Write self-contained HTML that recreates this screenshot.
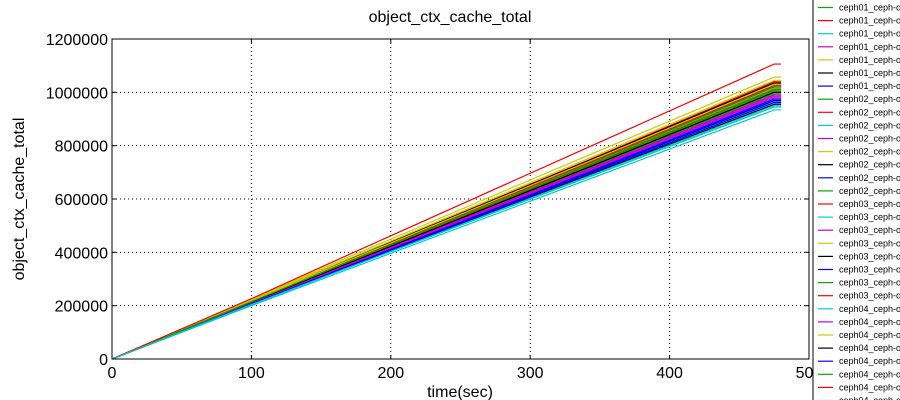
<!DOCTYPE html>
<html><head><meta charset="utf-8"><style>
body{margin:0;background:#fff;width:900px;height:400px;overflow:hidden;font-family:"Liberation Sans",sans-serif}
svg{position:absolute;left:0;top:0}
</style></head><body>
<svg id="c" width="900" height="400"></svg>
<script>
const times=[0,100,165,340,475,480];
const names=["ceph01_ceph-osd.0","ceph01_ceph-osd.1","ceph01_ceph-osd.2","ceph01_ceph-osd.3","ceph01_ceph-osd.4","ceph01_ceph-osd.5","ceph01_ceph-osd.6",
"ceph02_ceph-osd.7","ceph02_ceph-osd.8","ceph02_ceph-osd.9","ceph02_ceph-osd.10","ceph02_ceph-osd.11","ceph02_ceph-osd.12","ceph02_ceph-osd.13","ceph02_ceph-osd.14",
"ceph03_ceph-osd.15","ceph03_ceph-osd.16","ceph03_ceph-osd.17","ceph03_ceph-osd.18","ceph03_ceph-osd.19","ceph03_ceph-osd.20","ceph03_ceph-osd.21","ceph03_ceph-osd.22",
"ceph04_ceph-osd.23","ceph04_ceph-osd.24","ceph04_ceph-osd.25","ceph04_ceph-osd.26","ceph04_ceph-osd.27","ceph04_ceph-osd.28","ceph04_ceph-osd.29","ceph04_ceph-osd.30"];
const finals=[990000,1030000,960000,1000000,1057000,1020000,975000,1005000,1040000,945000,985000,1015000,1035000,970000,995000,1010000,955000,990000,1045000,1000000,968000,1020000,1025000,934000,980000,1030000,955000,962000,1012000,1106000,950000];
const mid340=[708000,735000,688000,715000,760000,728000,698000,718000,742000,678000,705000,725000,740000,695000,712000,722000,685000,708000,748000,715000,694000,730000,732000,670000,702000,736000,686000,690000,724000,790000,682000];
const mid165=[348000,360000,338000,352000,372000,356000,344000,352000,362000,334000,346000,356000,362000,340000,350000,354000,336000,348000,366000,350000,340000,358000,358000,328000,344000,360000,336000,338000,354000,380000,334000];
const mid100=[212000,218000,206000,214000,224000,216000,209000,213000,219000,204000,210000,216000,219000,207000,212000,215000,205000,211000,221000,213000,207000,217000,217000,200000,209000,218000,205000,206000,215000,226000,204000];
const xTicks=[0,100,200,300,400,500];
const yTicks=[0,200000,400000,600000,800000,1000000,1200000];
const colors=["#00aa00","#ff0000","#00cccc","#cc00cc","#cccc00","#000000","#0000ff"];
const L=112,R=809,T=39,B=359;
const X=v=>L+(v/500)*(R-L), Y=v=>B-(v/1200000)*(B-T);
const s=document.getElementById('c'),NS="http://www.w3.org/2000/svg";
function el(t,a,p){const e=document.createElementNS(NS,t);for(const k in a)e.setAttribute(k,a[k]);(p||s).appendChild(e);return e;}
let e;
e=el('text',{x:450,y:22,'text-anchor':'middle','font-size':16});e.textContent='object_ctx_cache_total';


xTicks.forEach(v=>{if(v>0&&v<500){e=el('line',{x1:X(v),x2:X(v),y1:T,y2:B,stroke:'#000','stroke-dasharray':'1,3'});

}
el('line',{x1:X(v),x2:X(v),y1:B,y2:B-4,stroke:'#000'});el('line',{x1:X(v),x2:X(v),y1:T,y2:T+4,stroke:'#000'});
e=el('text',{x:X(v),y:B+19,'text-anchor':'middle','font-size':16});e.textContent=v;

});
yTicks.forEach(v=>{if(v>0&&v<1200000){e=el('line',{x1:L,x2:R,y1:Y(v),y2:Y(v),stroke:'#000','stroke-dasharray':'1,3'});

}
el('line',{x1:L,x2:L+4,y1:Y(v),y2:Y(v),stroke:'#000'});el('line',{x1:R,x2:R-4,y1:Y(v),y2:Y(v),stroke:'#000'});
e=el('text',{x:L-4,y:Y(v)+6,'text-anchor':'end','font-size':16});e.textContent=v;

});
names.forEach((n,i)=>{const vals=[0,mid100[i],mid165[i],mid340[i],finals[i],finals[i]];
const p=el('polyline',{points:vals.map((v,j)=>X(times[j])+','+Y(v)).join(' '),fill:'none',stroke:colors[i%7],'stroke-width':1.2});

});
e=el('rect',{x:L,y:T,width:R-L,height:B-T,fill:'none',stroke:'#000'});


e=el('text',{x:460,y:397,'text-anchor':'middle','font-size':16});e.textContent='time(sec)';


e=el('text',{x:24,y:199,'text-anchor':'middle','font-size':16,transform:'rotate(-90 24 199)'});e.textContent='object_ctx_cache_total';


const lg=el('g',{});


el('rect',{x:813,y:-5,width:100,height:410,fill:'#fff',stroke:'#000'},lg);
names.forEach((n,i)=>{const y=7.5+13.1*i;
el('line',{x1:818,x2:833,y1:y,y2:y,stroke:colors[i%7],'stroke-width':1.2},lg);
const t=el('text',{x:839,y:y+3,'font-size':9},lg);t.textContent=n;

});
</script></body></html>
